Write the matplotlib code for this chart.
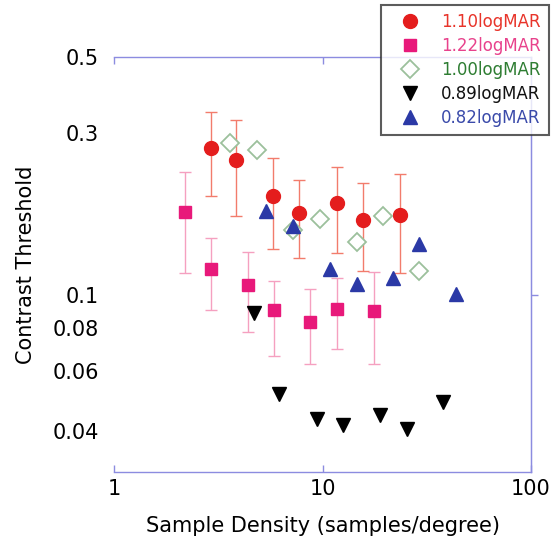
import matplotlib
matplotlib.use("Agg")
import matplotlib.pyplot as plt
from matplotlib.ticker import NullLocator, FixedLocator

plt.rcParams['font.family'] = ['DejaVu Sans']

# 1.10 logMAR (red circles, error bars)
x_110 = [2.93, 3.86, 5.81, 7.75, 11.7, 15.6, 23.5]
y_110 = [0.271, 0.250, 0.195, 0.174, 0.186, 0.166, 0.172]
hi_110 = [0.345, 0.327, 0.252, 0.218, 0.238, 0.213, 0.227]
lo_110 = [0.196, 0.171, 0.137, 0.129, 0.133, 0.118, 0.116]

# 1.22 logMAR (pink squares, error bars)
x_122 = [2.19, 2.93, 4.41, 5.88, 8.75, 11.7, 17.6]
y_122 = [0.175, 0.119, 0.107, 0.0904, 0.0834, 0.091, 0.0898]
hi_122 = [0.230, 0.147, 0.134, 0.110, 0.104, 0.112, 0.117]
lo_122 = [0.116, 0.0904, 0.078, 0.0663, 0.0629, 0.0695, 0.0629]

# 1.00 logMAR (open green diamonds)
x_100 = [3.61, 4.87, 7.25, 9.68, 14.6, 19.4, 28.9]
y_100 = [0.280, 0.267, 0.155, 0.167, 0.143, 0.171, 0.118]

# 0.89 logMAR (black down triangles)
x_089 = [4.71, 6.21, 9.46, 12.6, 18.8, 25.3, 37.8]
y_089 = [0.0886, 0.0514, 0.0434, 0.0417, 0.0446, 0.0406, 0.0487]

# 0.82 logMAR (blue up triangles)
x_082 = [5.38, 7.25, 10.9, 14.6, 21.9, 28.9, 43.6]
y_082 = [0.177, 0.160, 0.119, 0.108, 0.112, 0.141, 0.1007]

yticks = [0.04, 0.06, 0.08, 0.1, 0.3, 0.5]
ytick_labels = ['0.04', '0.06', '0.08', '0.1', '0.3', '0.5']
xticks = [1, 10, 100]
xtick_labels = ['1', '10', '100']

axis_col = '#8c8ce0'

fig = plt.figure(figsize=(5.54, 5.49), dpi=100)
ax = fig.add_axes([0.2058, 0.1403, 0.7527, 0.7559])
ax.set_xscale('log')
ax.set_yscale('log')

def err(y, lo, hi):
    return [[a - b for a, b in zip(y, lo)], [c - a for a, c in zip(y, hi)]]

ax.errorbar(x_122, y_122, yerr=err(y_122, lo_122, hi_122), fmt='none',
            ecolor='#f5a0c0', elinewidth=1.0, capsize=4, capthick=1.0, zorder=2)
ax.errorbar(x_110, y_110, yerr=err(y_110, lo_110, hi_110), fmt='none',
            ecolor='#f27c6c', elinewidth=1.0, capsize=4, capthick=1.0, zorder=2)

h1, = ax.plot(x_110, y_110, 'o', color='#e41d1d', ms=10, mec='#e41d1d', ls='none', zorder=3)
h2, = ax.plot(x_122, y_122, 's', color='#e8197a', ms=9, mec='#e8197a', ls='none', zorder=3)
h3, = ax.plot(x_100, y_100, 'D', mfc='white', mec='#9cc09c', mew=1.3, ms=9, ls='none', zorder=3)
h4, = ax.plot(x_089, y_089, 'v', color='black', ms=10, ls='none', zorder=3)
h5, = ax.plot(x_082, y_082, '^', color='#2b39a6', ms=10, ls='none', zorder=3)

ax.set_xlim(1, 100)
ax.set_ylim(0.0303, 0.5)

ax.xaxis.set_major_locator(FixedLocator(xticks))
ax.set_xticklabels(xtick_labels)
ax.xaxis.set_minor_locator(NullLocator())
ax.yaxis.set_major_locator(FixedLocator(yticks))
ax.set_yticklabels(ytick_labels)
ax.yaxis.set_minor_locator(NullLocator())

ax.tick_params(axis='x', direction='in', top=True, length=5, width=1,
               color=axis_col, labelsize=15, pad=5)
ax.tick_params(axis='y', left=True, length=0, labelsize=15, pad=11)

ax.spines['left'].set_visible(False)
for s in ['top', 'bottom', 'right']:
    ax.spines[s].set_color(axis_col)
    ax.spines[s].set_linewidth(1.0)

sec = ax.secondary_yaxis('right')
sec.yaxis.set_major_locator(FixedLocator([0.1]))
sec.yaxis.set_minor_locator(NullLocator())
sec.tick_params(direction='out', length=5, width=1, color=axis_col, labelright=False)
sec.spines['right'].set_color(axis_col)

ax.set_xlabel('Sample Density (samples/degree)', fontsize=15, labelpad=12)
ax.set_ylabel('Contrast Threshold', fontsize=15, labelpad=12)

labels = ['1.10logMAR', '1.22logMAR', '1.00logMAR', '0.89logMAR', '0.82logMAR']
leg = fig.legend([h1, h2, h3, h4, h5], labels, loc='upper right',
                 bbox_to_anchor=(0.991, 0.991), borderaxespad=0, fontsize=12,
                 labelcolor=['#e8342a', '#e8428c', '#2e7d32', '#111111', '#3a4aaa'],
                 frameon=True, fancybox=False, edgecolor='#333333',
                 labelspacing=0.35, handletextpad=0.6, handlelength=2.5,
                 borderpad=0.5, markerscale=1.0)
leg.get_frame().set_linewidth(1.5)

fig.savefig('out.png', dpi=100)
